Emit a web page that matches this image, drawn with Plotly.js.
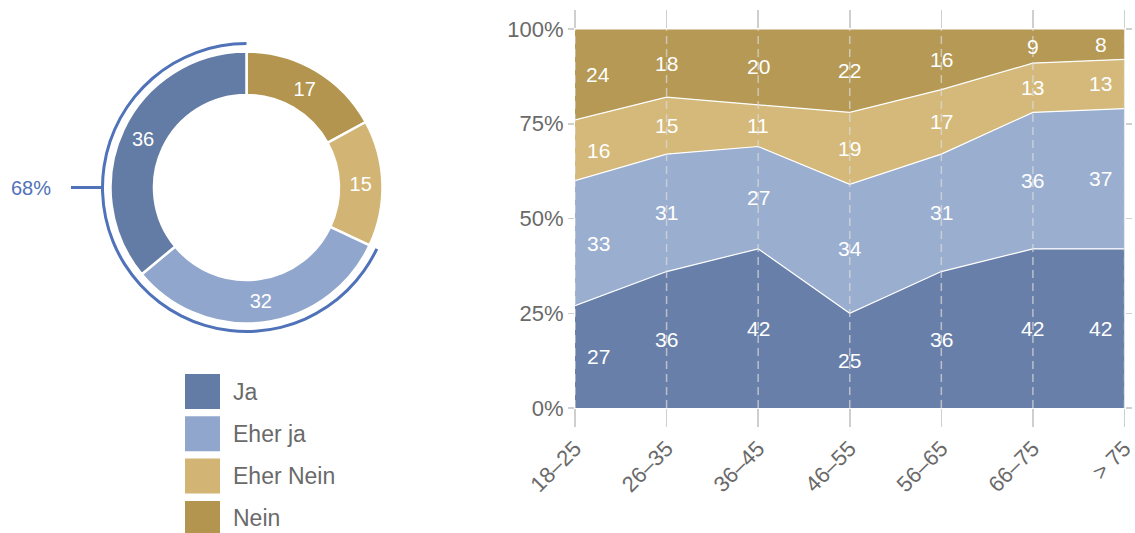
<!DOCTYPE html>
<html><head><meta charset="utf-8">
<script src="https://cdn.plot.ly/plotly-3.0.1.min.js"></script>
<style>html,body{margin:0;padding:0;background:#fff}#chart{width:1135px;height:533px}</style>
</head><body><div id="chart"></div>
<script>
// ---- data ----
const categories = ['Ja', 'Eher ja', 'Eher Nein', 'Nein'];
const donutValues = [36, 32, 15, 17];
const ageGroups = ['18–25', '26–35', '36–45', '46–55', '56–65', '66–75', '> 75'];
const jaValues = [27, 36, 42, 25, 36, 42, 42];
const eherJaValues = [33, 31, 27, 34, 31, 36, 37];
const eherNeinValues = [16, 15, 11, 19, 17, 13, 13];
const neinValues = [24, 18, 20, 22, 16, 9, 8];
const yTickValues = [0, 25, 50, 75, 100];
const yTickLabels = ['0%', '25%', '50%', '75%', '100%'];

// ---- styles ----
const W = 1135, H = 533;
const px = x => x / W;
const py = y => 1 - y / H;
const FONT = 'Liberation Sans, Arial, Helvetica, sans-serif';
const donutColors = ['#627ca5', '#91a6cd', '#d2b574', '#b3954f'];
const areaColors = ['#687fa9', '#9aaed0', '#d4b97a', '#b59954'];
const accent = '#4f72b8';
const grey = '#6a6a6a';
const seriesValues = [jaValues, eherJaValues, eherNeinValues, neinValues];

// donut geometry (pixels)
const cx = 246.5, cy = 187.5, rOuter = 136, rInner = 92.5, rRing = 145.5, ringW = 3;

const traces = [];
// slices drawn clockwise from 12 o'clock in reverse order so that "Ja" ends at 12 o'clock
traces.push({
  type: 'pie', labels: categories.slice().reverse(), values: donutValues.slice().reverse(), sort: false,
  direction: 'clockwise', rotation: 0, hole: rInner / rOuter,
  marker: {colors: donutColors.slice().reverse(), line: {color: '#ffffff', width: 2.5}},
  textinfo: 'value', textposition: 'inside', insidetextorientation: 'horizontal',
  textfont: {color: '#ffffff', size: 20, family: FONT},
  domain: {x: [px(cx - rOuter), px(cx + rOuter)], y: [py(cy + rOuter), py(cy - rOuter)]},
  showlegend: false, hoverinfo: 'label+value'
});
const positiveShare = donutValues[0] + donutValues[1];
const total = donutValues.reduce((a, b) => a + b, 0);
traces.push({
  type: 'pie', labels: ['rest', 'pos'], values: [total - positiveShare, positiveShare], sort: false,
  direction: 'clockwise', rotation: 0, hole: (rRing - ringW) / rRing,
  marker: {colors: ['rgba(0,0,0,0)', accent], line: {width: 0}},
  textinfo: 'none', hoverinfo: 'skip',
  domain: {x: [px(cx - rRing), px(cx + rRing)], y: [py(cy + rRing), py(cy - rRing)]},
  showlegend: false
});

seriesValues.forEach((vals, s) => {
  traces.push({
    type: 'scatter', x: ageGroups, y: vals, name: categories[s], stackgroup: 'one',
    mode: 'lines', line: {color: '#ffffff', width: 1.2}, fillcolor: areaColors[s],
    showlegend: false, hoverinfo: 'name+y', xaxis: 'x', yaxis: 'y'
  });
});

const shapes = [];
const annotations = [];

// dashed vertical gridlines over the areas
ageGroups.forEach(g => {
  shapes.push({type: 'line', xref: 'x', yref: 'y', x0: g, x1: g, y0: 0, y1: 100, layer: 'above',
    line: {color: 'rgba(220,220,220,0.7)', width: 1.5, dash: '8px,5px'}});
});

// area value labels
ageGroups.forEach((g, i) => {
  let base = 0;
  seriesValues.forEach(vals => {
    const v = vals[i];
    annotations.push({x: g, y: base + v / 2, xref: 'x', yref: 'y', text: String(v), showarrow: false,
      xshift: i === 0 ? 23 : (i === ageGroups.length - 1 ? -24 : 0),
      font: {color: '#ffffff', size: 21, family: FONT}});
    base += v;
  });
});

// 68% marker
shapes.push({type: 'line', xref: 'paper', yref: 'paper', x0: px(71), x1: px(cx - rRing + 1), y0: py(cy), y1: py(cy),
  line: {color: accent, width: 3}});
annotations.push({xref: 'paper', yref: 'paper', x: px(9), y: py(cy), xanchor: 'left', yanchor: 'middle',
  text: Math.round(100 * positiveShare / total) + '%', showarrow: false, font: {color: accent, size: 20, family: FONT}});

// legend
categories.forEach((c, i) => {
  const top = 374 + i * 42.3;
  shapes.push({type: 'rect', xref: 'paper', yref: 'paper', x0: px(185), x1: px(220), y0: py(top + 35), y1: py(top),
    fillcolor: donutColors[i], line: {width: 0}});
  annotations.push({xref: 'paper', yref: 'paper', x: px(231), y: py(top + 17.5), xanchor: 'left', yanchor: 'middle',
    text: c, showarrow: false, font: {color: grey, size: 23, family: FONT}});
});

const layout = {
  width: W, height: H, margin: {l: 0, r: 0, t: 0, b: 0},
  paper_bgcolor: '#ffffff', plot_bgcolor: '#ffffff',
  font: {family: FONT, color: grey},
  showlegend: false,
  xaxis: {
    type: 'category', domain: [px(575), px(1124.5)], range: [0, ageGroups.length - 1],
    showgrid: false, zeroline: false, showline: false, ticks: 'outside', ticklen: 18, tickwidth: 1.5,
    tickcolor: '#cfcfcf', mirror: 'ticks', tickangle: -45, tickfont: {size: 22, color: grey, family: FONT},
    fixedrange: true
  },
  yaxis: {
    domain: [py(408), py(29)], range: [0, 100], tickmode: 'array', tickvals: yTickValues, ticktext: yTickLabels,
    showgrid: false, zeroline: false, showline: false, ticks: 'outside', ticklen: 6, tickwidth: 1.5,
    tickcolor: '#cfcfcf', mirror: 'ticks', tickfont: {size: 22, color: grey, family: FONT},
    fixedrange: true
  },
  shapes: shapes,
  annotations: annotations
};

Plotly.newPlot('chart', traces, layout, {displayModeBar: false, staticPlot: true});
</script></body></html>
